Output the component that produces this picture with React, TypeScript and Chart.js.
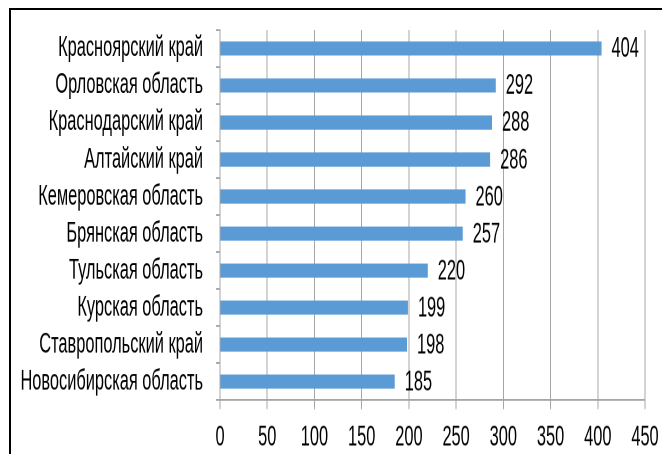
import React, { useEffect, useRef } from "react";
import { Chart, registerables } from "chart.js";

Chart.register(...registerables);

const categories: string[] = [
  "Красноярский край",
  "Орловская область",
  "Краснодарский край",
  "Алтайский край",
  "Кемеровская область",
  "Брянская область",
  "Тульская область",
  "Курская область",
  "Ставропольский край",
  "Новосибирская область",
];
const values: number[] = [404, 292, 288, 286, 260, 257, 220, 199, 198, 185];
const xTicks: number[] = [0, 50, 100, 150, 200, 250, 300, 350, 400, 450];

const STRETCH = 1.72;
const W = 662;
const H = 454 / STRETCH;
const FONT = "'Liberation Sans', Arial, sans-serif";
const FSIZE = 16.4;

const valueLabels = {
  id: "valueLabels",
  afterDatasetsDraw(chart: any) {
    const ctx = chart.ctx;
    const meta = chart.getDatasetMeta(0);
    ctx.save();
    ctx.fillStyle = "#000";
    ctx.font = `${FSIZE}px ${FONT}`;
    ctx.textAlign = "left";
    ctx.textBaseline = "middle";
    meta.data.forEach((bar: any, i: number) => {
      ctx.fillText(String(values[i]), bar.x + 10, bar.y + 0.5);
    });
    ctx.restore();
  },
};

export default function App() {
  const ref = useRef<HTMLCanvasElement | null>(null);
  useEffect(() => {
    if (!ref.current) return;
    const chart = new Chart(ref.current, {
      type: "bar",
      data: {
        labels: categories,
        datasets: [
          {
            data: values,
            backgroundColor: "#5A9AD5",
            borderWidth: 0,
            barPercentage: 0.38,
            categoryPercentage: 1,
          },
        ],
      },
      options: {
        indexAxis: "y",
        animation: false,
        responsive: true,
        maintainAspectRatio: false,
        devicePixelRatio: 2,
        layout: { padding: { top: 30 / STRETCH, right: 17, bottom: 0, left: 0 } },
        plugins: { legend: { display: false }, tooltip: { enabled: false } },
        scales: {
          x: {
            min: 0,
            max: 450,
            afterBuildTicks: (scale: any) => {
              scale.ticks = xTicks.map((v) => ({ value: v }));
            },
            afterFit: (scale: any) => {
              scale.height = (454 - 400) / STRETCH;
              scale.paddingLeft = 0;
              scale.paddingRight = 0;
              scale.paddingTop = 0;
              scale.paddingBottom = 0;
            },
            grid: {
              color: "#A6A6A6",
              lineWidth: 1,
              drawTicks: true,
              tickLength: 9 / STRETCH,
            },
            border: { color: "#A6A6A6" },
            ticks: {
              color: "#000",
              font: { family: FONT, size: FSIZE },
              padding: 7,
              maxRotation: 0,
              autoSkip: false,
            },
          },
          y: {
            afterFit: (scale: any) => {
              scale.width = 220;
              scale.paddingTop = 0;
              scale.paddingBottom = 0;
            },
            grid: {
              drawOnChartArea: false,
              drawTicks: true,
              tickLength: 4,
              color: "#A6A6A6",
            },
            border: { color: "#A6A6A6" },
            ticks: {
              color: "#000",
              font: { family: FONT, size: FSIZE },
              padding: 13,
              autoSkip: false,
            },
          },
        },
      },
      plugins: [valueLabels],
    });
    return () => chart.destroy();
  }, []);

  return (
    <div style={{ position: "fixed", left: 0, top: 0, width: W, height: 454, background: "#fff", overflow: "hidden" }}>
      <div
        style={{
          position: "absolute",
          left: 0,
          top: 0,
          width: W,
          height: H,
          transform: `scaleY(${STRETCH})`,
          transformOrigin: "0 0",
        }}
      >
        <canvas ref={ref} />
      </div>
      <div
        style={{
          position: "absolute",
          left: 9,
          top: 8,
          width: 800,
          height: 600,
          borderTop: "2px solid #000",
          borderLeft: "2px solid #000",
          pointerEvents: "none",
        }}
      />
    </div>
  );
}
